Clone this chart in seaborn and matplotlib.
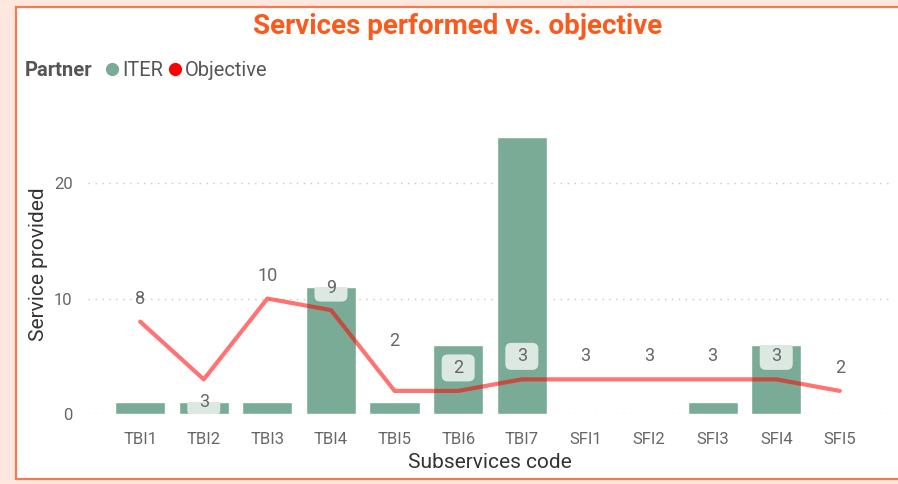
import matplotlib
matplotlib.use("Agg")
import matplotlib.pyplot as plt
from matplotlib.patches import Rectangle, FancyBboxPatch
from matplotlib.lines import Line2D
from matplotlib.transforms import Affine2D, ScaledTranslation
import seaborn as sns
import pandas as pd
import numpy as np

# ---- data ----
categories = ["TBI1", "TBI2", "TBI3", "TBI4", "TBI5", "TBI6", "TBI7",
              "SFI1", "SFI2", "SFI3", "SFI4", "SFI5"]
iter_values = [1, 1, 1, 11, 1, 6, 24, 0, 0, 1, 6, 0]
objective_values = [8, 3, 10, 9, 2, 2, 3, 3, 3, 3, 3, 2]
y_ticks = [0, 10, 20]

title_text = "Services performed vs. objective"
legend_title = "Partner"
series_names = ["ITER", "Objective"]
x_label = "Subservices code"
y_label = "Service provided"

BAR_COLOR = "#79AB96"
LINE_COLOR = "#FF0000"
TITLE_COLOR = "#FA5A1E"
TEXT_GRAY = "#666666"

sns.set_theme(style="white")
plt.rcParams["font.family"] = ["Roboto", "DejaVu Sans"]

df = pd.DataFrame({"code": categories, "iter": iter_values,
                   "objective": objective_values, "pos": np.arange(len(categories))})

W, H = 898, 484
fig = plt.figure(figsize=(W / 100, H / 100), dpi=100, facecolor="#FDE7DE")

# card background with orange border
card = Rectangle((16 / W, 1 - 479 / H), 1.0, (479 - 7) / H, transform=fig.transFigure,
                 facecolor="white", edgecolor="#F47B50", linewidth=1.6, zorder=-10)
fig.patches.append(card)

ax = fig.add_axes([88 / W, 1 - 414 / H, (892 - 88) / W, 299 / H])
ax.set_facecolor("none")

sns.barplot(data=df, x="code", y="iter", color=BAR_COLOR, saturation=1,
            width=0.79, errorbar=None, ax=ax, zorder=2)
sns.lineplot(data=df, x="pos", y="objective", color=LINE_COLOR, alpha=0.55,
             linewidth=3.0, ax=ax, zorder=3, legend=False)

ax.set_xlim(-0.82, len(categories) - 1 + 0.82)
ax.set_ylim(0, 25.9)
ax.set_yticks(y_ticks)
ax.set_xticks(range(len(categories)))
ax.set_xticklabels(categories)
ax.tick_params(axis="both", length=0, colors=TEXT_GRAY, labelsize=12)
ax.tick_params(axis="x", pad=13)
ax.tick_params(axis="y", pad=11)
for s in ax.spines.values():
    s.set_visible(False)
ax.grid(axis="y", color="#C8C8C8", linestyle=(0, (1, 4)), linewidth=1.0, zorder=0)
ax.set_axisbelow(True)

ax.set_xlabel(x_label, fontsize=15, color="#333333", labelpad=4)
ax.set_ylabel(y_label, fontsize=15, color="#333333", labelpad=4)

# data labels for objective (offsets in pixels)
offsets = [23, -23, 23, 22, 50, 23, 23, 23, 23, 23, 23, 23]
boxed = [False, True, False, True, False, True, True, False, False, False, True, False]
bars = ax.patches
for i, (v, off, bx) in enumerate(zip(objective_values, offsets, boxed)):
    if bx:
        tr = Affine2D().translate(0, off) + ScaledTranslation(i, v, ax.transData)
        box = FancyBboxPatch((-16.5, -13.5), 33, 27,
                             boxstyle="round,pad=0,rounding_size=6",
                             fc="#DCE9E3", ec="none", transform=tr, zorder=5)
        ax.add_artist(box)
        box.set_clip_path(bars[i])
    ax.annotate(str(v), (i, v), xytext=(0, off * 0.72), textcoords="offset points",
                ha="center", va="center", fontsize=13, color=TEXT_GRAY, zorder=6)

# title
fig.text(458 / W, 1 - 26 / H, title_text, ha="center", va="center",
         fontsize=20, fontweight="bold", color=TITLE_COLOR)

# legend
handles = [Line2D([], [], marker="o", linestyle="none", markersize=9.5,
                  markerfacecolor=BAR_COLOR, markeredgecolor="none"),
           Line2D([], [], marker="o", linestyle="none", markersize=9.5,
                  markerfacecolor="#FF0000", markeredgecolor="none")]
fig.text(25 / W, 1 - 71 / H, legend_title, ha="left", va="center",
         fontsize=14.5, fontweight="bold", color="#555555")
leg = fig.legend(handles, series_names, loc="center left",
                 bbox_to_anchor=(106 / W, 1 - 71 / H), ncol=2, frameon=False,
                 handlelength=0.6, handletextpad=0.2, columnspacing=0.3,
                 borderaxespad=0, borderpad=0, fontsize=14.5, labelcolor="#555555")

fig.savefig("out.png", dpi=100, facecolor=fig.get_facecolor())
